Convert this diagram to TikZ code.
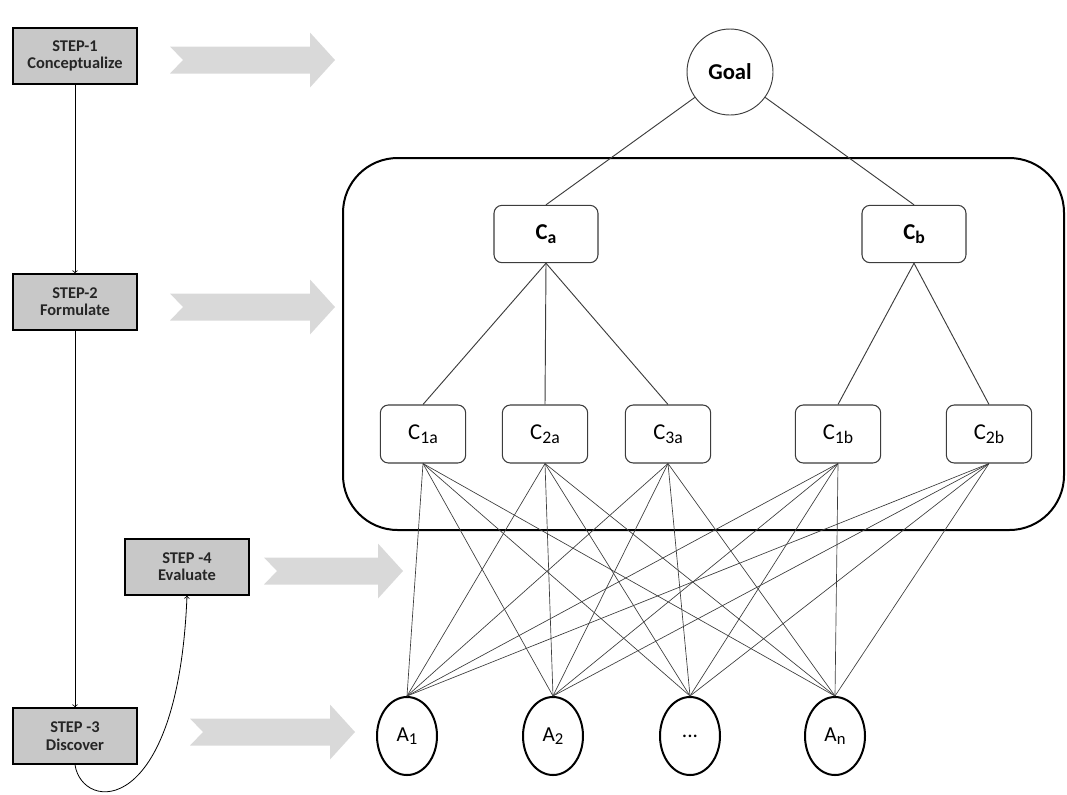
\documentclass[tikz,border=0pt]{standalone}
\usepackage{fontspec}
\setmainfont{Carlito}
\usetikzlibrary{arrows,shapes.geometric}
\definecolor{boxgray}{RGB}{200,200,200}
\definecolor{arrowgray}{RGB}{217,217,217}
\definecolor{linegray}{RGB}{60,60,60}
\newcommand{\lowsub}[1]{\raisebox{-0.35ex}{\scalebox{0.78}{#1}}}
\tikzset{
  stepbox/.style={draw,line width=1.1pt,fill=boxgray,minimum width=93pt,minimum height=42pt,
    align=center,text=black!85,font=\bfseries\fontsize{12.3}{13}\selectfont},
  critbox/.style={draw=linegray,line width=0.8pt,rounded corners=6pt,minimum width=78pt,minimum height=43pt,
    font=\bfseries\fontsize{17}{19}\selectfont},
  subbox/.style={draw=linegray,line width=0.8pt,rounded corners=6pt,minimum width=64pt,minimum height=43.5pt,
    font=\fontsize{17}{19}\selectfont},
  altnode/.style={draw,ellipse,line width=1.5pt,inner sep=0pt,minimum width=45pt,minimum height=58.5pt,
    font=\fontsize{16}{18}\selectfont},
}
\begin{document}
\begin{tikzpicture}[>=to,x=0.75pt,y=-0.75pt]
\useasboundingbox (0,0) rectangle (1067,794);
% grey block arrows
\foreach \xa/\xb/\yc in {170/335/60,170/335/307,264/403/571,190/355/732}
  \fill[arrowgray] (\xa,\yc-13.5) -- (\xb-25,\yc-13.5) -- (\xb-25,\yc-27.5) -- (\xb,\yc)
    -- (\xb-25,\yc+27.5) -- (\xb-25,\yc+13.5) -- (\xa,\yc+13.5) -- (\xa+13,\yc) -- cycle;
% steps
\node[stepbox] (s1) at (75,56) {STEP-1\\Conceptualize};
\node[stepbox] (s2) at (75,302) {STEP-2\\Formulate};
\node[stepbox] (s3) at (75,736) {STEP -3\\Discover};
\node[stepbox] (s4) at (187,567) {STEP -4\\Evaluate};
\draw[->,line width=0.6pt] (s1) -- (s2);
\draw[->,line width=0.6pt] (s2) -- (s3);
\draw[->,line width=0.6pt] (s3.south) .. controls (82,812) and (178,820) .. (s4.south);
% criteria frame
\draw[line width=1.5pt,rounded corners=41pt] (343,158) rectangle (1064,530);
% hierarchy
\node[draw=linegray,circle,line width=0.7pt,minimum size=64.5pt,font=\bfseries\fontsize{17}{19}\selectfont] (goal) at (730,72) {Goal};
\node[critbox] (ca) at (546,234) {C\lowsub{a}};
\node[critbox] (cb) at (914,234) {C\lowsub{b}};
\node[subbox] (c1a) at (423,434) {C\lowsub{1a}};
\node[subbox] (c2a) at (545,434) {C\lowsub{2a}};
\node[subbox] (c3a) at (668,434) {C\lowsub{3a}};
\node[subbox] (c1b) at (838,434) {C\lowsub{1b}};
\node[subbox] (c2b) at (989,434) {C\lowsub{2b}};
\node[altnode] (a1) at (407,736) {A\lowsub{1}};
\node[altnode] (a2) at (553,736) {A\lowsub{2}};
\node[altnode] (a3) at (690,736) {...};
\node[altnode] (an) at (835,736) {A\lowsub{n}};
\draw[linegray,line width=0.7pt] (goal) -- (ca.north);
\draw[linegray,line width=0.7pt] (goal) -- (cb.north);
\foreach \c in {c1a,c2a,c3a}
  \draw[linegray,line width=0.7pt] (ca.south) -- (\c.north);
\foreach \c in {c1b,c2b}
  \draw[linegray,line width=0.7pt] (cb.south) -- (\c.north);
\foreach \c in {c1a,c2a,c3a,c1b,c2b}
  \foreach \a in {a1,a2,a3,an}
    \draw[linegray,line width=0.5pt] (\c.south) -- (\a.north);
\end{tikzpicture}
\end{document}
